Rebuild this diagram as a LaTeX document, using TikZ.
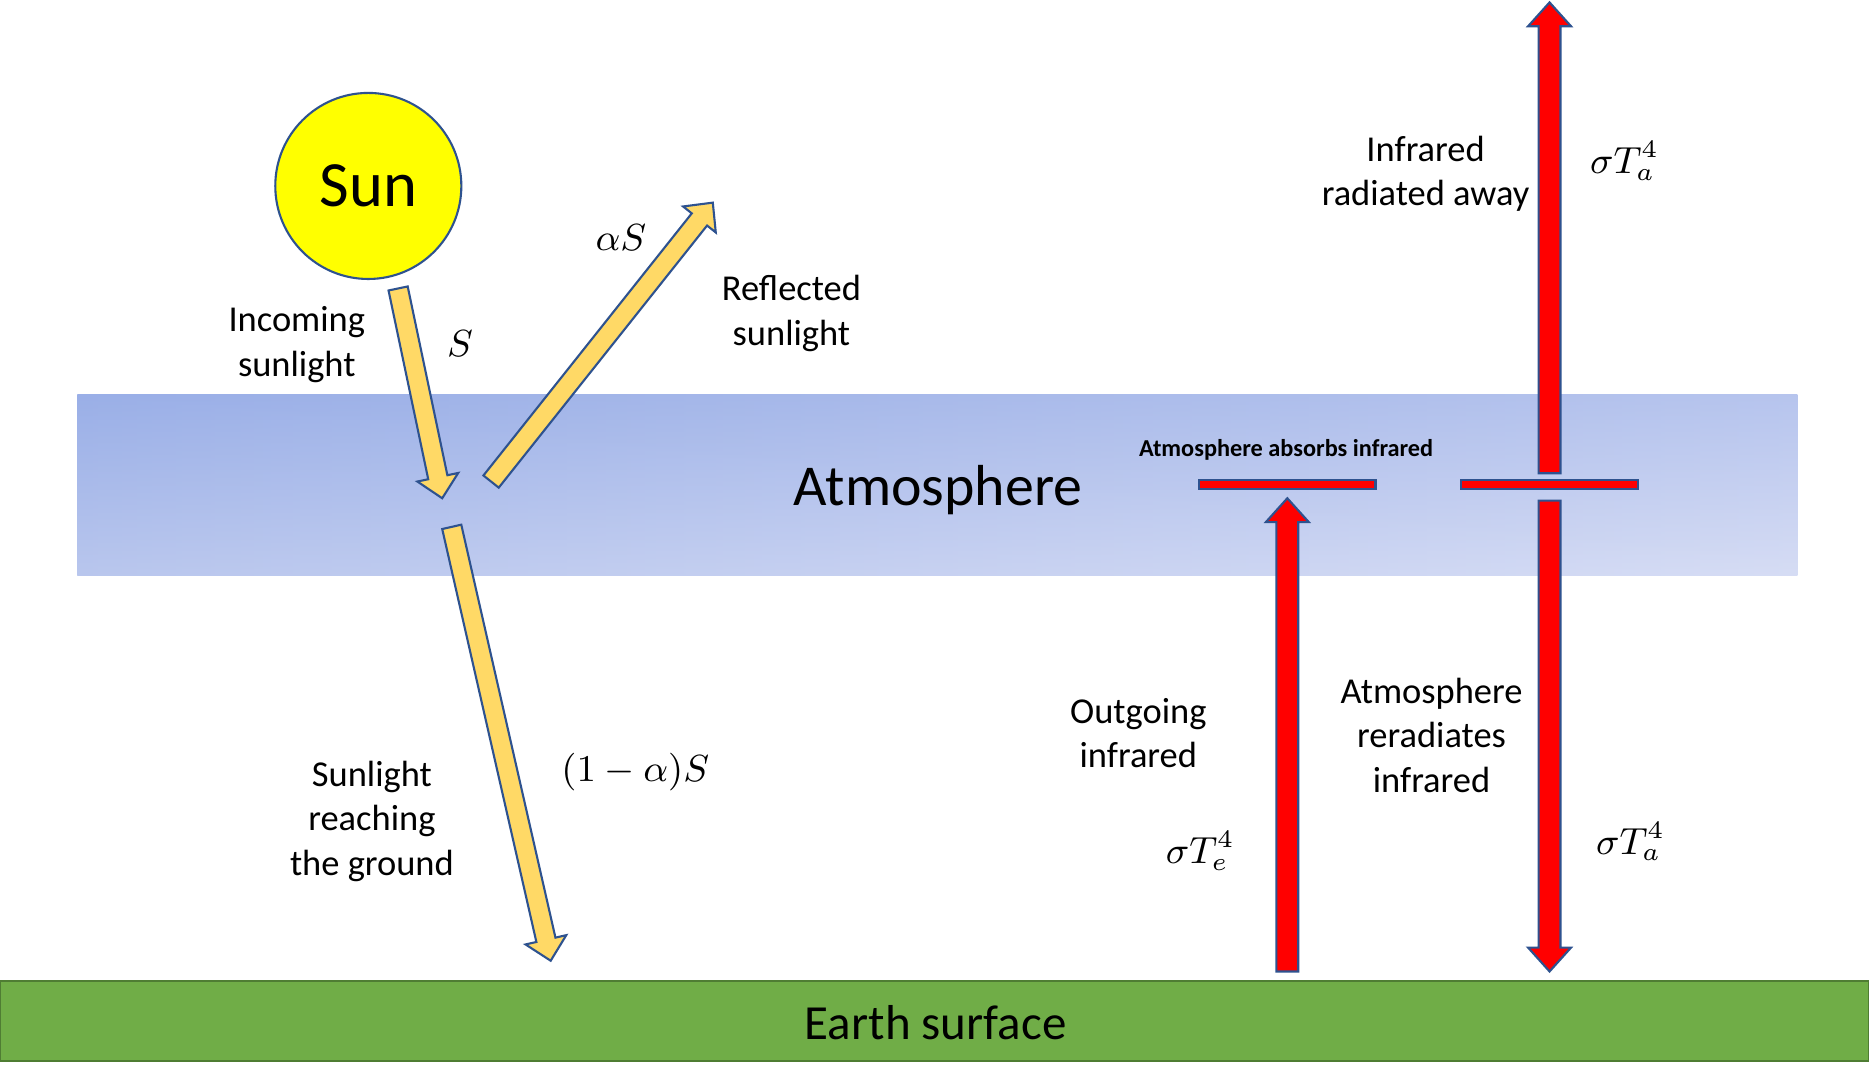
\documentclass[tikz,border=0pt]{standalone}
\usepackage{fontspec}
\setmainfont{Carlito}
\usepackage{amsmath}
\usepackage{xcolor}
\usepackage{tikz}
\usetikzlibrary{calc, positioning, shapes}
\definecolor{sunyellow}{rgb}{1.0, 1.0, 0.0}
\definecolor{sunbeam}{rgb}{1.0, 0.85, 0.4}
\definecolor{edgeblue}{rgb}{0.18, 0.32, 0.56}
\definecolor{atmleft}{RGB}{154,175,231}
\definecolor{atmright}{RGB}{212,219,245}
\definecolor{atmtop}{RGB}{154,175,231}
\definecolor{atmbottom}{RGB}{216,222,244}
\definecolor{earthgreen}{rgb}{0.44, 0.68, 0.28}
\definecolor{earthedge}{rgb}{0.31, 0.49, 0.2}
\definecolor{irred}{rgb}{1.0, 0.0, 0.0}

% block arrow: start, tip, shaft half width, head half width, head length, style
\newcommand{\blockarrow}[6]{%
	\coordinate (ba-base) at ($(#2)!#5!(#1)$);
	\filldraw[#6] ($(#1)!#3!90:(#2)$) -- ($(ba-base)!#3!-90:(#1)$) -- ($(ba-base)!#4!-90:(#1)$) -- (#2)
		-- ($(ba-base)!#4!90:(#1)$) -- ($(ba-base)!#3!90:(#1)$) -- ($(#1)!#3!-90:(#2)$) -- cycle;
}

\begin{document}
\begin{tikzpicture}[x=0.01cm, y=-0.01cm]
		\tikzstyle{lbl}=[align=center, font=\fontsize{8.7}{10.6}\selectfont, inner sep=0pt]
		\tikzstyle{mth}=[font=\fontsize{8.7}{10.6}\selectfont, inner sep=0pt]
		\tikzstyle{beam}=[fill=sunbeam, draw=edgeblue, line width=0.5pt, line join=miter]
		\tikzstyle{ray}=[fill=irred, draw=edgeblue, line width=0.5pt, line join=miter]
		\useasboundingbox (0,0) rectangle (1568,911);
		\fill[white] (0,0) rectangle (1568,911);
		%% layers
		\shade[left color=atmleft, right color=atmright] (65,331) rectangle (1508,483);
		\shade[top color=atmtop, bottom color=atmbottom, opacity=0.5] (65,331) rectangle (1508,483);
		\filldraw[fill=earthgreen, draw=earthedge, line width=0.6pt] (0,823) rectangle (1568,890);
		
		\node (atm) at (787,411) [font=\fontsize{13.8}{16}\selectfont] {Atmosphere};
		\node (earth) at (785,858) [font=\fontsize{11.7}{14}\selectfont] {Earth surface};
		\node (sun) at (309,156) [circle, fill=sunyellow, draw=edgeblue, line width=0.5pt, minimum size=1.56cm, font=\fontsize{15.4}{18}\selectfont] {Sun};
		
		%% sunlight
		\coordinate (in0) at (334,242);
		\coordinate (in1) at (371,418);
		\coordinate (rf0) at (412,404);
		\coordinate (rf1) at (598,170);
		\coordinate (gr0) at (379,442);
		\coordinate (gr1) at (462,806);
		\blockarrow{in0}{in1}{0.82mm}{1.75mm}{1.8mm}{beam}
		\blockarrow{rf0}{rf1}{0.82mm}{1.75mm}{1.8mm}{beam}
		\blockarrow{gr0}{gr1}{0.82mm}{1.75mm}{1.8mm}{beam}
		
		%% infrared
		\coordinate (og0) at (1080,815);
		\coordinate (og1) at (1080,418);
		\coordinate (up0) at (1300,397);
		\coordinate (up1) at (1300,2);
		\coordinate (dn0) at (1300,420);
		\coordinate (dn1) at (1300,815);
		\blockarrow{og0}{og1}{0.92mm}{1.8mm}{2mm}{ray}
		\blockarrow{up0}{up1}{0.92mm}{1.8mm}{2mm}{ray}
		\blockarrow{dn0}{dn1}{0.92mm}{1.8mm}{2mm}{ray}
		\filldraw[ray] (1006,403) rectangle (1154,410);
		\filldraw[ray] (1226,403) rectangle (1374,410);
		
		%% labels
		\node (l-in) at (249,289) [lbl] {Incoming\\sunlight};
		\node (m-in) at (386,288) [mth] {$S$};
		\node (m-rf) at (521,199) [mth] {$\alpha S$};
		\node (l-rf) at (664,263) [lbl] {Reflected\\sunlight};
		\node (l-gr) at (312,689) [lbl] {Sunlight\\reaching\\the ground};
		\node (m-gr) at (533,648) [mth] {$(1-\alpha)S$};
		\node (l-abs) at (1079,377) [lbl, font=\fontsize{5.8}{7}\selectfont\bfseries] {Atmosphere absorbs infrared};
		\node (l-up) at (1196,146) [lbl] {Infrared\\radiated away};
		\node (m-up) at (1363,135) [mth] {$\sigma T_a^4$};
		\node (l-og) at (955,615) [lbl] {Outgoing\\infrared};
		\node (m-og) at (1007,714) [mth] {$\sigma T_e^4$};
		\node (l-dn) at (1201,617) [lbl] {Atmosphere\\reradiates\\infrared};
		\node (m-dn) at (1368,706) [mth] {$\sigma T_a^4$};
\end{tikzpicture}
\end{document}
